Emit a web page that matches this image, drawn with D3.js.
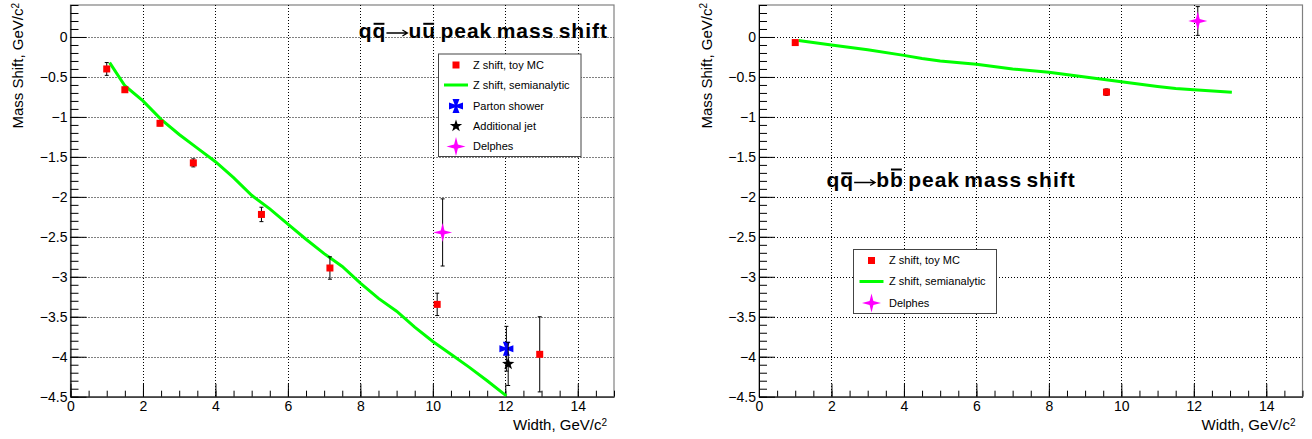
<!DOCTYPE html>
<html lang="en">
<head>
<meta charset="utf-8">
<style>
  body { margin: 0; background: #fff; }
  svg { display: block; font-family: "Liberation Sans", Arial, sans-serif; }
</style>
</head>
<body>
<svg width="1312" height="439"></svg>
<script src="https://cdn.jsdelivr.net/npm/d3@7/dist/d3.min.js"></script>
<script>
const svg = d3.select("svg");

// ---------------- data: q qbar -> u ubar ----------------
const uuToyWidth = [1.0, 1.5, 2.47, 3.39, 5.27, 7.16, 10.12, 12.95];
const uuToyShift = [-0.40, -0.66, -1.08, -1.575, -2.22, -2.89, -3.345, -3.97];
const uuToyErr   = [0.08, 0.03, 0.03, 0.05, 0.09, 0.14, 0.14, 0.47];

const uuSemiWidth = [1.08, 1.5, 2, 2.5, 3, 3.5, 4, 4.5, 5, 5.5, 6, 6.5, 7, 7.5, 8, 8.5, 9, 9.5, 10, 10.5, 11, 11.5, 12.03];
const uuSemiShift = [-0.32, -0.61, -0.80, -1.03, -1.22, -1.39, -1.56, -1.76, -1.98, -2.15, -2.34, -2.53, -2.71, -2.87, -3.08, -3.27, -3.43, -3.63, -3.81, -3.97, -4.13, -4.30, -4.49];

const uuPartonWidth = [12.03], uuPartonShift = [-3.90], uuPartonErr = [0.28];
const uuJetWidth = [12.08], uuJetShift = [-4.09], uuJetErr = [0.27];
const uuDelphesWidth = [10.27], uuDelphesShift = [-2.445], uuDelphesErr = [0.42];

// ---------------- data: q qbar -> b bbar ----------------
const bbToyWidth = [1.0, 9.59];
const bbToyShift = [-0.07, -0.69];
const bbToyErr   = [0.02, 0.04];

const bbSemiWidth = [1.09, 2, 3, 4, 4.5, 5, 6, 7, 8, 9, 10, 11, 11.5, 12, 13.05];
const bbSemiShift = [-0.045, -0.10, -0.16, -0.23, -0.27, -0.30, -0.34, -0.40, -0.44, -0.50, -0.56, -0.62, -0.645, -0.66, -0.69];

const bbDelphesWidth = [12.11], bbDelphesShift = [0.20], bbDelphesErr = [0.18];

// ---------------- axes ----------------
const xTickValues = [0, 2, 4, 6, 8, 10, 12, 14];
const xTickLabels = ["0", "2", "4", "6", "8", "10", "12", "14"];
const yTickValues = [0, -0.5, -1, -1.5, -2, -2.5, -3, -3.5, -4, -4.5];
const yTickLabels = ["0", "\u22120.5", "\u22121", "\u22121.5", "\u22122", "\u22122.5", "\u22123", "\u22123.5", "\u22124", "\u22124.5"];

const plotTop = 5, plotBottom = 396.7;
const green = "#00ff00", red = "#ff0000", blue = "#0000ff", magenta = "#ff00ff";

/************************************************************
* Marker shapes
************************************************************/
function star4(r) {
    const k = r * 0.2;
    return `M0,${-r}L${k},${-k}L${r},0L${k},${k}L0,${r}L${-k},${k}L${-r},0L${-k},${-k}Z`;
}
function star5(ro, ri) {
    const pts = d3.range(10).map(i => {
        const a = -Math.PI / 2 + i * Math.PI / 5, r = i % 2 ? ri : ro;
        return [r * Math.cos(a), r * Math.sin(a)];
    });
    return "M" + pts.map(p => p.join(",")).join("L") + "Z";
}
function cross(s) {
    const a = s * 0.5, b = s * 0.2, c = s;
    return `M${-a},${-c}L${a},${-c}L${b},${-b}L${c},${-a}L${c},${a}L${b},${b}L${a},${c}L${-a},${c}L${-b},${b}L${-c},${a}L${-c},${-a}L${-b},${-b}Z`;
}

function drawMarker(g, type, cx, cy) {
    if (type === "square") {
        g.append("rect").attr("x", cx - 3.5).attr("y", cy - 3.5).attr("width", 7).attr("height", 7).attr("fill", red);
    } else if (type === "cross") {
        g.append("path").attr("d", cross(7)).attr("transform", `translate(${cx},${cy})`).attr("fill", blue);
    } else if (type === "star5") {
        g.append("path").attr("d", star5(6.5, 2.6)).attr("transform", `translate(${cx},${cy})`).attr("fill", "#000");
    } else if (type === "star4") {
        g.append("path").attr("d", star4(9.5)).attr("transform", `translate(${cx},${cy})`).attr("fill", magenta);
    }
}

function drawPoints(g, x, y, widths, shifts, errs, type) {
    widths.forEach((w, i) => {
        const cx = x(w), lo = y(shifts[i] - errs[i]), hi = y(shifts[i] + errs[i]);
        g.append("line").attr("x1", cx).attr("x2", cx).attr("y1", lo).attr("y2", hi)
            .attr("stroke", "#000").attr("stroke-width", 1);
        [lo, hi].forEach(v => g.append("line").attr("x1", cx - 2).attr("x2", cx + 2)
            .attr("y1", v).attr("y2", v).attr("stroke", "#000").attr("stroke-width", 1));
        drawMarker(g, type, cx, y(shifts[i]));
    });
}

/************************************************************
* Panel: frame, grid, axes, titles
************************************************************/
function drawPanel(left, right) {
    const x = d3.scaleLinear().domain([0, 15]).range([left, right]);
    const y = d3.scaleLinear().domain([-4.5, 0.4]).range([plotBottom, plotTop]);
    const g = svg.append("g");

    // frame
    g.append("rect").attr("x", left).attr("y", plotTop).attr("width", right - left).attr("height", plotBottom - plotTop)
        .attr("fill", "none").attr("stroke", "#808080").attr("stroke-width", 1.2);

    // dotted grid
    g.append("g").selectAll("line").data(xTickValues.filter(v => v > 0)).join("line")
        .attr("x1", d => Math.round(x(d)) + 0.5).attr("x2", d => Math.round(x(d)) + 0.5)
        .attr("y1", plotTop).attr("y2", plotBottom)
        .attr("stroke", "#000").attr("stroke-dasharray", "1,2");
    g.append("g").selectAll("line").data(yTickValues.filter(v => v > -4.5)).join("line")
        .attr("x1", left).attr("x2", right)
        .attr("y1", d => Math.round(y(d)) + 0.5).attr("y2", d => Math.round(y(d)) + 0.5)
        .attr("stroke", "#000").attr("stroke-dasharray", "1,2");

    // minor ticks
    g.append("g").attr("transform", `translate(${left},0)`)
        .call(d3.axisLeft(y).tickValues(d3.range(-45, 5).map(v => v / 10)).tickSize(-8).tickSizeOuter(0).tickFormat(""))
        .call(a => a.select(".domain").remove());
    g.append("g").attr("transform", `translate(0,${plotBottom})`)
        .call(d3.axisBottom(x).tickValues(d3.range(0, 31).map(v => v / 2)).tickSize(-6).tickSizeOuter(0).tickFormat(""))
        .call(a => a.select(".domain").remove());

    // major axes
    const yAxis = g.append("g").attr("transform", `translate(${left},0)`)
        .call(d3.axisLeft(y).tickValues(yTickValues).tickFormat((d, i) => yTickLabels[i])
            .tickSize(-16).tickSizeOuter(0).tickPadding(3));
    const xAxis = g.append("g").attr("transform", `translate(0,${plotBottom})`)
        .call(d3.axisBottom(x).tickValues(xTickValues).tickFormat((d, i) => xTickLabels[i])
            .tickSize(-13).tickSizeOuter(0).tickPadding(4));
    [yAxis, xAxis].forEach(a => {
        a.attr("font-family", null).attr("font-size", 14);
        a.selectAll("text").attr("fill", "#000");
        a.selectAll("line, path").attr("stroke", "#000");
    });
    g.selectAll(".tick line").attr("stroke", "#000");

    // axis titles
    const xt = g.append("text").attr("x", right - 7).attr("y", 430).attr("text-anchor", "end")
        .attr("font-size", 15).text("Width, GeV/c");
    xt.append("tspan").attr("dy", "-0.45em").attr("font-size", 10).text("2");
    const yt = g.append("text").attr("transform", `translate(${left - 47.5},3) rotate(-90)`)
        .attr("text-anchor", "end").attr("font-size", 15).text("Mass Shift, GeV/c");
    yt.append("tspan").attr("dy", "-0.45em").attr("font-size", 10).text("2");

    return { g, x, y };
}

// Title "q qbar -> X Xbar peak mass shift" with overlines and a drawn arrow
function drawTitle(g, tx, ty, anchor, first, second, bars) {
    const fs = 21, gap = 22;
    const t = g.append("text").attr("x", tx).attr("y", ty).attr("text-anchor", anchor)
        .attr("font-size", fs).attr("font-weight", "bold")
        .attr("letter-spacing", 1.0).attr("word-spacing", -2.5);
    t.append("tspan").text(first);
    t.append("tspan").attr("dx", gap).text(second);
    const node = t.node();
    bars.forEach(b => {
        const e = node.getExtentOfChar(b.i);
        g.append("rect").attr("x", e.x + 1).attr("width", e.width - 3)
            .attr("y", ty - b.h * fs).attr("height", 2).attr("fill", "#000");
    });
    const e1 = node.getExtentOfChar(first.length - 1);
    const x1 = e1.x + e1.width, x2 = x1 + gap - 1, ay = ty - 4.5;
    g.append("path").attr("d", `M${x1},${ay}H${x2}M${x2 - 5},${ay - 3}L${x2},${ay}L${x2 - 5},${ay + 3}`)
        .attr("fill", "none").attr("stroke", "#000").attr("stroke-width", 1.3);
}

function drawLegend(g, x0, y0, w, h, markerX, textX, entries) {
    g.append("rect").attr("x", x0).attr("y", y0).attr("width", w).attr("height", h)
        .attr("fill", "#fff").attr("stroke", "#444").attr("stroke-width", 1);
    entries.forEach(e => {
        if (e.type === "line") {
            g.append("line").attr("x1", markerX - 12).attr("x2", markerX + 12).attr("y1", e.y).attr("y2", e.y)
                .attr("stroke", green).attr("stroke-width", 3);
        } else {
            drawMarker(g, e.type, markerX, e.y);
        }
        g.append("text").attr("x", textX).attr("y", e.y).attr("dy", "0.36em")
            .attr("font-size", 11).attr("fill", "#000").text(e.label);
    });
}

const line = (x, y) => d3.line().x(d => x(d[0])).y(d => y(d[1]));

/************************************************************
* Left: q qbar -> u ubar
************************************************************/
{
    const { g, x, y } = drawPanel(70.5, 614);
    drawTitle(g, 608, 37.5, "end", "qq", "uu peak mass shift", [{ i: 1, h: 0.7 }, { i: 3, h: 0.7 }]);
    g.append("path").datum(d3.zip(uuSemiWidth, uuSemiShift)).attr("d", line(x, y))
        .attr("fill", "none").attr("stroke", green).attr("stroke-width", 3);
    drawPoints(g, x, y, uuToyWidth, uuToyShift, uuToyErr, "square");
    drawPoints(g, x, y, uuDelphesWidth, uuDelphesShift, uuDelphesErr, "star4");
    drawPoints(g, x, y, uuPartonWidth, uuPartonShift, uuPartonErr, "cross");
    drawPoints(g, x, y, uuJetWidth, uuJetShift, uuJetErr, "star5");
    drawLegend(g, 438.5, 54, 142.5, 102.5, 456, 473, [
        { type: "square", y: 65, label: "Z shift, toy MC" },
        { type: "line", y: 85, label: "Z shift, semianalytic" },
        { type: "cross", y: 106, label: "Parton shower" },
        { type: "star5", y: 126, label: "Additional jet" },
        { type: "star4", y: 146.5, label: "Delphes" }
    ]);
}

/************************************************************
* Right: q qbar -> b bbar
************************************************************/
{
    const { g, x, y } = drawPanel(759, 1302.5);
    drawTitle(g, 826.5, 187, "start", "qq", "bb peak mass shift", [{ i: 1, h: 0.7 }, { i: 3, h: 0.88 }]);
    g.append("path").datum(d3.zip(bbSemiWidth, bbSemiShift)).attr("d", line(x, y))
        .attr("fill", "none").attr("stroke", green).attr("stroke-width", 3);
    drawPoints(g, x, y, bbToyWidth, bbToyShift, bbToyErr, "square");
    drawPoints(g, x, y, bbDelphesWidth, bbDelphesShift, bbDelphesErr, "star4");
    drawLegend(g, 853.5, 249.5, 143, 64, 871.5, 889, [
        { type: "square", y: 260.5, label: "Z shift, toy MC" },
        { type: "line", y: 281.5, label: "Z shift, semianalytic" },
        { type: "star4", y: 303, label: "Delphes" }
    ]);
}
</script>
</body>
</html>
